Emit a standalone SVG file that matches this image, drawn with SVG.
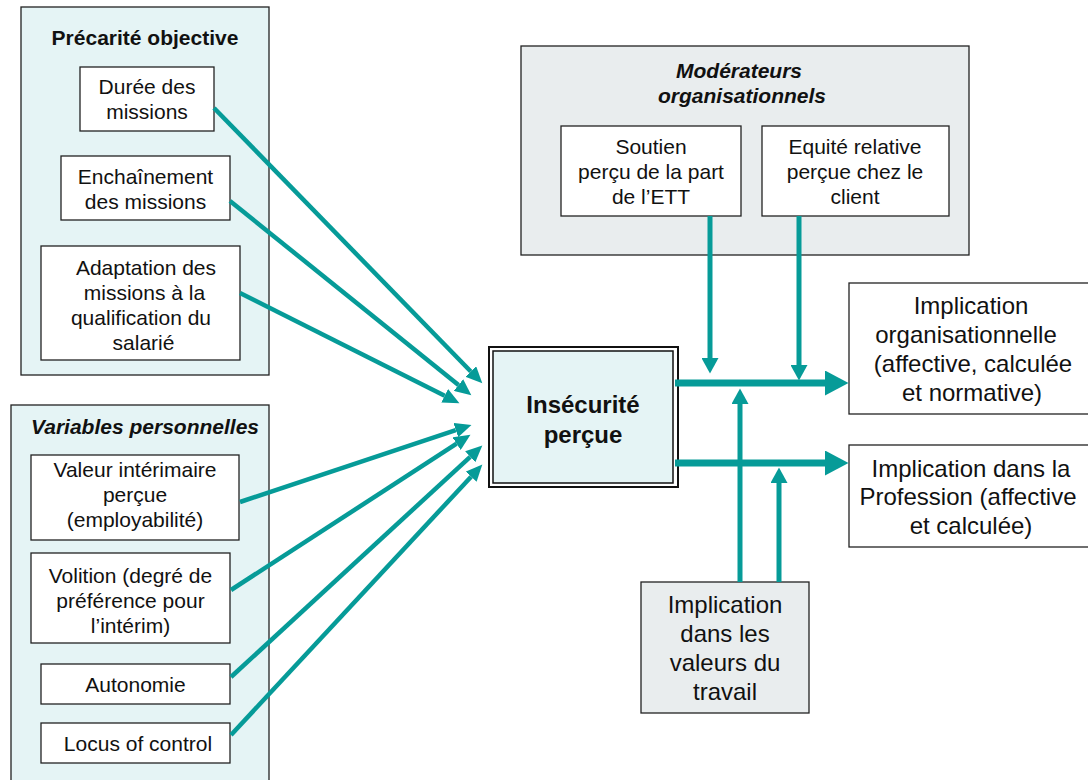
<svg xmlns="http://www.w3.org/2000/svg" width="1088" height="780" viewBox="0 0 1088 780">
<style>
text{font-family:"Liberation Sans",Arial,Helvetica,sans-serif;fill:#111;text-anchor:middle}
.t{font-size:21px}
.tb{font-size:21px;font-weight:bold}
.tbi{font-size:21px;font-weight:bold;font-style:italic}
.tl{font-size:24px}
.tc{font-size:24px;font-weight:bold}
.grpb{fill:#e5f4f5;stroke:#222;stroke-width:1.3}
.grpg{fill:#e9edee;stroke:#222;stroke-width:1.3}
.box{fill:#fff;stroke:#222;stroke-width:1.3}
.c{stroke:#069b98;fill:none}
.d{stroke-width:4.5}
.h{stroke-width:7}
.v{stroke-width:5}
</style>
<defs>
<marker id="mD" markerUnits="userSpaceOnUse" orient="auto" markerWidth="17" markerHeight="15" refX="0" refY="7.5"><path d="M0,0 L16.5,7.5 L0,15 z" fill="#069b98"/></marker>
<marker id="mH" markerUnits="userSpaceOnUse" orient="auto" markerWidth="24" markerHeight="25" refX="0" refY="12.5"><path d="M0,0 L23.5,12.5 L0,25 z" fill="#069b98"/></marker>
<marker id="mV" markerUnits="userSpaceOnUse" orient="auto" markerWidth="16" markerHeight="17" refX="0" refY="8.5"><path d="M0,0 L15.5,8.5 L0,17 z" fill="#069b98"/></marker>
</defs>

<g id="precarite">
<rect class="grpb" x="21" y="7" width="248" height="368"/>
<text class="tb" x="145" y="45">Précarité objective</text>
</g>
<g id="duree">
<rect class="box" x="80" y="67" width="134" height="64"/>
<text class="t" x="147" y="94">Durée des</text>
<text class="t" x="147" y="119">missions</text>
</g>
<g id="enchainement">
<rect class="box" x="61" y="156" width="169" height="64"/>
<text class="t" x="145.5" y="184">Enchaînement</text>
<text class="t" x="145.5" y="209">des missions</text>
</g>
<g id="adaptation">
<rect class="box" x="41" y="246" width="199" height="114"/>
<text class="t" x="146" y="275">Adaptation des</text>
<text class="t" x="144.5" y="300">missions à la</text>
<text class="t" x="141" y="325">qualification du</text>
<text class="t" x="143.5" y="350">salarié</text>
</g>

<g id="variables">
<rect class="grpb" x="11" y="405" width="258" height="380"/>
<text class="tbi" x="145" y="434">Variables personnelles</text>
</g>
<g id="valeur">
<rect class="box" x="31" y="455" width="208" height="85"/>
<text class="t" x="135" y="477">Valeur intérimaire</text>
<text class="t" x="135" y="502">perçue</text>
<text class="t" x="135" y="527">(employabilité)</text>
</g>
<g id="volition">
<rect class="box" x="31" y="553" width="199" height="90"/>
<text class="t" x="130.5" y="583">Volition (degré de</text>
<text class="t" x="130.5" y="608">préférence pour</text>
<text class="t" x="130.5" y="633">l’intérim)</text>
</g>
<g id="autonomie">
<rect class="box" x="41" y="664" width="189" height="40"/>
<text class="t" x="135.5" y="692">Autonomie</text>
</g>
<g id="locus">
<rect class="box" x="41" y="723" width="189" height="40"/>
<text class="t" x="138" y="751">Locus of control</text>
</g>

<g id="moderateurs">
<rect class="grpg" x="521" y="46" width="448" height="209"/>
<text class="tbi" x="739" y="78">Modérateurs</text>
<text class="tbi" x="742" y="103">organisationnels</text>
</g>
<g id="soutien">
<rect class="box" x="561" y="126" width="180" height="90"/>
<text class="t" x="651" y="154">Soutien</text>
<text class="t" x="651" y="179">perçu de la part</text>
<text class="t" x="651" y="204">de l’ETT</text>
</g>
<g id="equite">
<rect class="box" x="762" y="126" width="187" height="90"/>
<text class="t" x="855" y="154">Equité relative</text>
<text class="t" x="855" y="179">perçue chez le</text>
<text class="t" x="855" y="204">client</text>
</g>

<g id="insecurite">
<rect x="489" y="347" width="189" height="140" fill="#fff" stroke="#111" stroke-width="2"/>
<rect x="493" y="351" width="180" height="132" fill="#e5f4f5" stroke="#111" stroke-width="1.5"/>
<text class="tc" x="583" y="413">Insécurité</text>
<text class="tc" x="583" y="443">perçue</text>
</g>

<g id="impl-org">
<rect class="box" x="849" y="283" width="250" height="131"/>
<text class="tl" x="971" y="314">Implication</text>
<text class="tl" x="966" y="343">organisationnelle</text>
<text class="tl" x="973" y="372">(affective, calculée</text>
<text class="tl" x="972" y="401">et normative)</text>
</g>
<g id="impl-prof">
<rect class="box" x="849" y="445" width="250" height="102"/>
<text class="tl" x="971" y="477">Implication dans la</text>
<text class="tl" x="968" y="505">Profession (affective</text>
<text class="tl" x="971" y="534">et calculée)</text>
</g>
<g id="impl-valeurs">
<rect x="641" y="582" width="168" height="131" fill="#e9edee" stroke="#222" stroke-width="1.3"/>
<text class="tl" x="725" y="613">Implication</text>
<text class="tl" x="725" y="642">dans les</text>
<text class="tl" x="725" y="671">valeurs du</text>
<text class="tl" x="725" y="700">travail</text>
</g>

<g id="connectors">
<line class="c d" x1="214" y1="108" x2="470.8" y2="371.5" marker-end="url(#mD)"/>
<line class="c d" x1="230" y1="201" x2="458.5" y2="385" marker-end="url(#mD)"/>
<line class="c d" x1="240" y1="293" x2="444.7" y2="395.8" marker-end="url(#mD)"/>
<line class="c d" x1="240" y1="502" x2="455.8" y2="430.1" marker-end="url(#mD)"/>
<line class="c d" x1="231" y1="590" x2="456.6" y2="443.7" marker-end="url(#mD)"/>
<line class="c d" x1="231" y1="677" x2="470.2" y2="456.8" marker-end="url(#mD)"/>
<line class="c d" x1="231" y1="735" x2="471.1" y2="476.7" marker-end="url(#mD)"/>
<line class="c h" x1="675" y1="383" x2="825" y2="383" marker-end="url(#mH)"/>
<line class="c h" x1="675" y1="463" x2="825" y2="463" marker-end="url(#mH)"/>
<line class="c v" x1="710" y1="216" x2="710" y2="358" marker-end="url(#mV)"/>
<line class="c v" x1="799" y1="216" x2="799" y2="365" marker-end="url(#mV)"/>
<line class="c v" x1="740" y1="582" x2="740" y2="404" marker-end="url(#mV)"/>
<line class="c v" x1="779" y1="582" x2="779" y2="483" marker-end="url(#mV)"/>
</g>
</svg>
